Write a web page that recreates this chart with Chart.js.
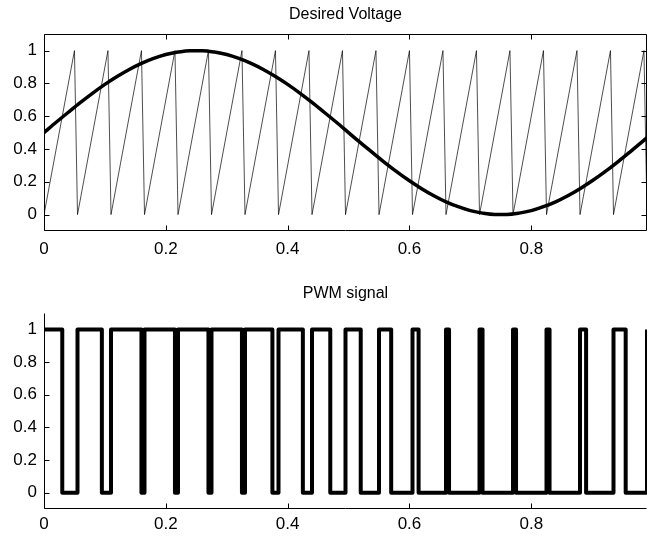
<!DOCTYPE html>
<html>
<head>
<meta charset="utf-8">
<script src="https://cdn.jsdelivr.net/npm/chart.js@4"></script>
<style>
    html, body { margin: 0; padding: 0; background: #fff; overflow: hidden; }
    canvas { display: block; }
</style>
</head>
<body>
<canvas id="voltageChart" width="648" height="270"></canvas>
<canvas id="pwmChart" width="648" height="268"></canvas>
<script>
// axis ticks
const timeTicks = [0, 0.2, 0.4, 0.6, 0.8];
const levelTicks = [0, 0.2, 0.4, 0.6, 0.8, 1];

// desired voltage (thick curve)
const sineT = [0, 0.02, 0.04, 0.06, 0.08, 0.10, 0.12, 0.14, 0.16, 0.18,
    0.20, 0.22, 0.24, 0.26, 0.28, 0.30, 0.32, 0.34, 0.36, 0.38,
    0.40, 0.42, 0.44, 0.46, 0.48, 0.50, 0.52, 0.54, 0.56, 0.58,
    0.60, 0.62, 0.64, 0.66, 0.68, 0.70, 0.72, 0.74, 0.76, 0.78,
    0.80, 0.82, 0.84, 0.86, 0.88, 0.90, 0.92, 0.94, 0.96, 0.98, 0.99];
const sineV = [0.500, 0.563, 0.624, 0.684, 0.741, 0.794, 0.842, 0.885, 0.922, 0.952,
    0.976, 0.991, 0.999, 0.999, 0.991, 0.976, 0.952, 0.922, 0.885, 0.842,
    0.794, 0.741, 0.684, 0.624, 0.563, 0.500, 0.437, 0.376, 0.316, 0.259,
    0.206, 0.158, 0.115, 0.078, 0.048, 0.024, 0.009, 0.001, 0.001, 0.009,
    0.024, 0.048, 0.078, 0.115, 0.158, 0.206, 0.259, 0.316, 0.376, 0.437, 0.469];

// carrier sawtooth corners
const sawT = [0, 0.05, 0.055, 0.105, 0.11, 0.16, 0.165, 0.215, 0.22, 0.27,
    0.275, 0.325, 0.33, 0.38, 0.385, 0.435, 0.44, 0.49, 0.495, 0.545,
    0.55, 0.60, 0.605, 0.655, 0.66, 0.71, 0.715, 0.765, 0.77, 0.82,
    0.825, 0.875, 0.88, 0.93, 0.935, 0.985, 0.99];
const sawV = [0, 1, 0, 1, 0, 1, 0, 1, 0, 1,
    0, 1, 0, 1, 0, 1, 0, 1, 0, 1,
    0, 1, 0, 1, 0, 1, 0, 1, 0, 1,
    0, 1, 0, 1, 0, 1, 0];

// PWM switching instants and the level after each one
const pwmT = [0, 0.03, 0.055, 0.095, 0.11, 0.16, 0.165, 0.215, 0.22, 0.27,
    0.275, 0.325, 0.33, 0.375, 0.385, 0.425, 0.44, 0.47, 0.495, 0.52,
    0.55, 0.57, 0.605, 0.615, 0.66, 0.665, 0.715, 0.72, 0.77, 0.775,
    0.825, 0.83, 0.88, 0.89, 0.935, 0.955, 0.99];
const pwmV = [1, 0, 1, 0, 1, 0, 1, 0, 1, 0,
    1, 0, 1, 0, 1, 0, 1, 0, 1, 0,
    1, 0, 1, 0, 1, 0, 1, 0, 1, 0,
    1, 0, 1, 0, 1, 0, 1];

const FONT = "'Liberation Sans', Arial, sans-serif";

function points(xs, ys) {
    return xs.map((x, i) => ({ x: x, y: ys[i] }));
}

// matlab style frame with inward ticks
const frame = {
    id: "frame",
    afterDatasetsDraw(chart, args, opts) {
        const { ctx, chartArea: a, scales } = chart;
        const L = Math.round(a.left) + 0.5;
        const R = Math.round(a.right) - 0.5;
        const T = Math.round(a.top) + 0.5;
        const B = Math.round(a.bottom) - 0.5;
        ctx.save();
        ctx.strokeStyle = "#000";
        ctx.lineWidth = 1;
        ctx.beginPath();
        ctx.moveTo(L, T);
        ctx.lineTo(L, B);
        ctx.lineTo(R, B);
        if (opts.box) {
            ctx.lineTo(R, T);
            ctx.lineTo(L, T);
        }
        timeTicks.forEach(v => {
            const px = Math.round(scales.x.getPixelForValue(v)) + 0.5;
            ctx.moveTo(px, B);
            ctx.lineTo(px, B - 5);
            if (opts.box) {
                ctx.moveTo(px, T);
                ctx.lineTo(px, T + 5);
            }
        });
        levelTicks.forEach(v => {
            const py = Math.round(scales.y.getPixelForValue(v)) + 0.5;
            ctx.moveTo(L, py);
            ctx.lineTo(L + 5, py);
            if (opts.box) {
                ctx.moveTo(R, py);
                ctx.lineTo(R - 5, py);
            }
        });
        ctx.stroke();
        ctx.restore();
    }
};

function makeOptions(title, box, xHeight, xPad, titlePad) {
    return {
        responsive: false,
        animation: false,
        devicePixelRatio: 1,
        layout: { padding: { left: 0, right: 1, top: 0, bottom: 0 } },
        elements: { point: { radius: 0 } },
        plugins: {
            legend: { display: false },
            tooltip: { enabled: false },
            title: {
                display: true,
                fullSize: false,
                text: title,
                color: "#000",
                font: { family: FONT, size: 16, weight: "normal" },
                padding: titlePad
            },
            frame: { box: box }
        },
        scales: {
            x: {
                type: "linear",
                min: 0,
                max: 0.99,
                afterBuildTicks: s => { s.ticks = timeTicks.map(v => ({ value: v })); },
                afterFit: s => { s.height = xHeight; },
                grid: { display: false, drawTicks: false },
                border: { display: false },
                ticks: {
                    color: "#000",
                    font: { family: FONT, size: 17 },
                    padding: xPad,
                    maxRotation: 0,
                    autoSkip: false,
                    callback: v => String(+v.toFixed(1))
                }
            },
            y: {
                type: "linear",
                min: -0.1,
                max: 1.1,
                afterBuildTicks: s => { s.ticks = levelTicks.map(v => ({ value: v })); },
                afterFit: s => { s.width = 44; },
                grid: { display: false, drawTicks: false },
                border: { display: false },
                ticks: {
                    color: "#000",
                    font: { family: FONT, size: 17 },
                    padding: 7,
                    callback: v => String(+v.toFixed(1))
                }
            }
        }
    };
}

new Chart(document.getElementById("voltageChart"), {
    type: "line",
    data: {
        datasets: [
            {
                data: points(sineT, sineV),
                borderColor: "#000",
                borderWidth: 3.5,
                tension: 0.4,
                cubicInterpolationMode: "monotone",
                fill: false
            },
            {
                data: points(sawT, sawV),
                borderColor: "#000",
                borderWidth: 0.7,
                tension: 0,
                fill: false
            }
        ]
    },
    options: makeOptions("Desired Voltage", true, 39, 8, { top: 5, bottom: 10 }),
    plugins: [frame]
});

new Chart(document.getElementById("pwmChart"), {
    type: "line",
    data: {
        datasets: [
            {
                data: points(pwmT, pwmV),
                borderColor: "#000",
                borderWidth: 4,
                stepped: "before",
                borderJoinStyle: "round",
                fill: false
            }
        ]
    },
    options: makeOptions("PWM signal", false, 29, 5, { top: 14, bottom: 10 }),
    plugins: [frame]
});
</script>
</body>
</html>
